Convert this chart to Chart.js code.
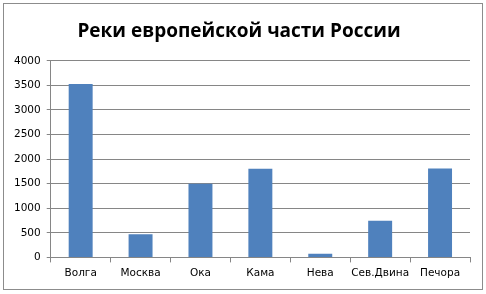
<!DOCTYPE html>
<html>
<head>
<meta charset="utf-8">
<script src="https://cdn.jsdelivr.net/npm/chart.js@4.4.0/dist/chart.umd.min.js"></script>
<style>
  html, body { margin: 0; padding: 0; background: #fff; }
  #wrap {
    position: absolute; left: 3px; top: 3px;
    width: 478px; height: 285px;
    border: 1px solid #8c8c8c; background: #fff;
  }
  #wrap canvas { display: block; }
</style>
</head>
<body>
<div id="wrap"><canvas id="chart" width="478" height="285"></canvas></div>
<script>
// rivers and their lengths (km)
const rivers = ['Волга', 'Москва', 'Ока', 'Кама', 'Нева', 'Сев.Двина', 'Печора'];
const lengths = [3530, 473, 1500, 1805, 74, 744, 1809];
const yTicks = [0, 500, 1000, 1500, 2000, 2500, 3000, 3500, 4000];

const ctx = document.getElementById('chart').getContext('2d');
new Chart(ctx, {
    type: 'bar',
    data: {
        labels: rivers,
        datasets: [{
            data: lengths,
            backgroundColor: '#4f81bd',
            borderWidth: 0,
            barPercentage: 0.4,
            categoryPercentage: 1.0
        }]
    },
    options: {
        responsive: false,
        animation: false,
        layout: { padding: { left: 4, right: 12, top: 4, bottom: 4 } },
        plugins: {
            legend: { display: false },
            tooltip: { enabled: false },
            title: {
                display: true,
                text: 'Реки европейской части России',
                color: '#000',
                font: { family: 'Open Sans', size: 19, weight: 'bold' },
                padding: { top: 12, bottom: 18 }
            }
        },
        scales: {
            x: {
                grid: {
                    offset: true,
                    drawOnChartArea: false,
                    drawTicks: true,
                    tickLength: 5,
                    color: '#868686'
                },
                border: { color: '#868686' },
                ticks: {
                    color: '#000',
                    font: { family: 'DejaVu Sans', size: 10.5 },
                    padding: 5,
                    maxRotation: 0,
                    minRotation: 0,
                    autoSkip: false
                }
            },
            y: {
                min: 0,
                max: 4000,
                afterBuildTicks: axis => { axis.ticks = yTicks.map(v => ({ value: v })); },
                grid: { color: '#868686', tickLength: 4 },
                border: { color: '#868686' },
                ticks: {
                    color: '#000',
                    font: { family: 'DejaVu Sans', size: 10.5 },
                    padding: 6,
                    callback: v => String(v)
                }
            }
        }
    }
});
</script>
</body>
</html>
